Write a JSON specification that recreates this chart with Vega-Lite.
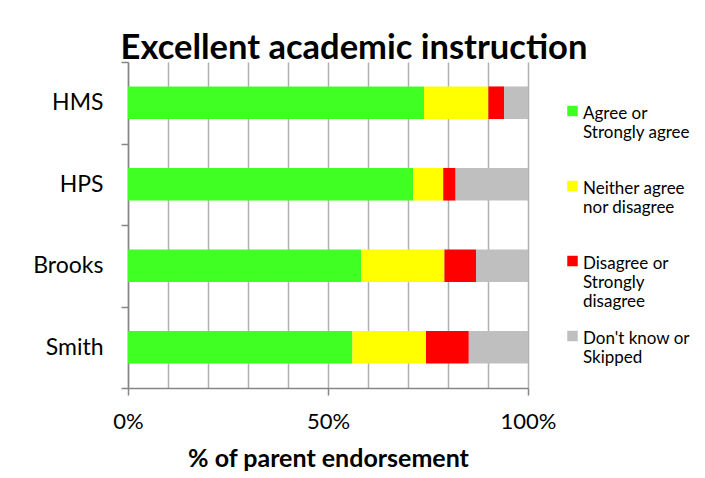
{
  "$schema": "https://vega.github.io/schema/vega-lite/v6.json",
  "autosize": {"type": "none"},
  "width": 400,
  "height": 326,
  "padding": {"left": 128, "top": 62, "right": 177, "bottom": 90},
  "background": "white",
  "config": {
    "font": "Lato",
    "view": {"stroke": null}
  },
  "title": {
    "text": "Excellent academic instruction",
    "font": "Lato",
    "fontSize": 34.5,
    "fontWeight": "bold",
    "color": "black",
    "anchor": "middle",
    "dx": 26,
    "dy": 48,
    "baseline": "alphabetic",
    "offset": 6
  },
  "data": {
    "values": [
      {"school": "HMS", "response": "Agree or\nStrongly agree", "k": 1, "pct": 74.0},
      {"school": "HMS", "response": "Neither agree\nnor disagree", "k": 2, "pct": 16.1},
      {"school": "HMS", "response": "Disagree or\nStrongly\ndisagree", "k": 3, "pct": 3.9},
      {"school": "HMS", "response": "Don't know or\nSkipped", "k": 4, "pct": 6.0},
      {"school": "HPS", "response": "Agree or\nStrongly agree", "k": 1, "pct": 71.3},
      {"school": "HPS", "response": "Neither agree\nnor disagree", "k": 2, "pct": 7.5},
      {"school": "HPS", "response": "Disagree or\nStrongly\ndisagree", "k": 3, "pct": 3.1},
      {"school": "HPS", "response": "Don't know or\nSkipped", "k": 4, "pct": 18.1},
      {"school": "Brooks", "response": "Agree or\nStrongly agree", "k": 1, "pct": 58.3},
      {"school": "Brooks", "response": "Neither agree\nnor disagree", "k": 2, "pct": 20.8},
      {"school": "Brooks", "response": "Disagree or\nStrongly\ndisagree", "k": 3, "pct": 7.9},
      {"school": "Brooks", "response": "Don't know or\nSkipped", "k": 4, "pct": 13.0},
      {"school": "Smith", "response": "Agree or\nStrongly agree", "k": 1, "pct": 56.1},
      {"school": "Smith", "response": "Neither agree\nnor disagree", "k": 2, "pct": 18.4},
      {"school": "Smith", "response": "Disagree or\nStrongly\ndisagree", "k": 3, "pct": 10.7},
      {"school": "Smith", "response": "Don't know or\nSkipped", "k": 4, "pct": 14.8}
    ]
  },
  "mark": {"type": "bar", "height": {"band": 0.4}},
  "encoding": {
    "y": {
      "field": "school",
      "type": "nominal",
      "sort": ["HMS", "HPS", "Brooks", "Smith"],
      "scale": {"padding": 0},
      "axis": {
        "title": null,
        "tickBand": "extent",
        "domainColor": "#868686",
        "domainWidth": 1.5,
        "tickColor": "#868686",
        "tickWidth": 1.5,
        "tickSize": 7,
        "labelFontSize": 23,
        "labelColor": "black",
        "labelFont": "Lato",
        "labelPadding": 18,
        "grid": false
      }
    },
    "x": {
      "field": "pct",
      "type": "quantitative",
      "stack": "normalize",
      "scale": {"domain": [0, 1], "nice": false},
      "axis": {
        "title": "% of parent endorsement",
        "titleFontSize": 25,
        "titleFont": "Lato",
        "titleFontWeight": "bold",
        "titleColor": "black",
        "titlePadding": 14,
        "values": [0, 0.1, 0.2, 0.3, 0.4, 0.5, 0.6, 0.7, 0.8, 0.9, 1],
        "format": ".0%",
        "labelExpr": "(datum.value == 0 || datum.value == 0.5 || datum.value == 1) ? datum.label : ''",
        "labelFontSize": 22,
        "labelColor": "black",
        "labelPadding": 16,
        "labelFlush": false,
        "grid": true,
        "gridColor": "#B0B0B0",
        "gridWidth": 1.5,
        "domainColor": "#868686",
        "domainWidth": 1.5,
        "tickColor": "#868686",
        "tickWidth": 1.5,
        "tickSize": 7,
        "tickOpacity": {"condition": {"test": "datum.value == 0 || datum.value == 0.5 || datum.value == 1", "value": 1}, "value": 0}
      }
    },
    "color": {
      "field": "response",
      "type": "nominal",
      "scale": {
        "domain": ["Agree or\nStrongly agree", "Neither agree\nnor disagree", "Disagree or\nStrongly\ndisagree", "Don't know or\nSkipped"],
        "range": ["#40FF22", "#FFFF00", "#FF0000", "#BFBFBF"]
      },
      "legend": {
        "title": null,
        "orient": "none",
        "legendX": 436,
        "legendY": 35,
        "padding": 0,
        "symbolType": "M-1,0.05H1V2.05H-1Z",
        "symbolSize": 110,
        "symbolStrokeWidth": 0,
        "labelFontSize": 17,
        "labelFont": "Lato",
        "labelColor": "black",
        "labelLineHeight": 22,
        "labelBaseline": "top",
        "labelExpr": "split(datum.label, '\\n')",
        "labelLimit": 200,
        "labelOffset": 2,
        "gridAlign": "all",
        "rowPadding": 12
      }
    },
    "order": {"field": "k", "type": "quantitative"}
  }
}
